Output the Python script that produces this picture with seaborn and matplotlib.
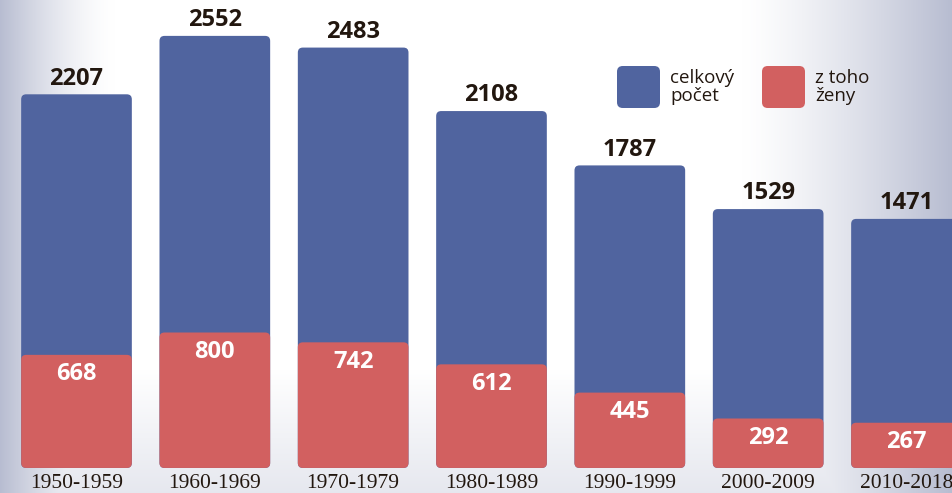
import numpy as np
import pandas as pd
import matplotlib
matplotlib.use("Agg")
from matplotlib import pyplot as plt
from matplotlib.patches import FancyBboxPatch
import seaborn as sns

# Data
periods = ["1950-1959", "1960-1969", "1970-1979", "1980-1989",
           "1990-1999", "2000-2009", "2010-2018"]
total = [2207, 2552, 2483, 2108, 1787, 1529, 1471]
women = [668, 800, 742, 612, 445, 292, 267]

blue = "#50649f"
red = "#d26060"
dark = "#22170f"

df = pd.DataFrame({"period": periods, "total": total, "women": women})

sns.set_style("white")
fig = plt.figure(figsize=(9.52, 4.93), dpi=100)

# Background gradient (gray at the sides, white in the middle)
bg = fig.add_axes([0, 0, 1, 1], zorder=0)
h, w = 493, 952
xx, yy = np.meshgrid(np.linspace(0, 1, w), np.linspace(0, 1, h))
left = np.clip(1 - xx / 0.12, 0, 1) ** 1.5
right = np.clip((xx - 0.78) / 0.22, 0, 1) ** 1.3
bottom = np.clip((yy - 0.75) / 0.25, 0, 1) * 0.35
shade = np.clip(np.maximum(np.maximum(left, right), bottom), 0, 1)
white = np.array([1.0, 1.0, 1.0])
gray = np.array([0.72, 0.74, 0.82])
img = white * (1 - shade[..., None]) + gray * shade[..., None]
bg.imshow(img, aspect="auto", extent=(0, 1, 0, 1), origin="upper")
bg.axis("off")

ax = fig.add_axes([0, 0, 1, 1], zorder=1)
ax.patch.set_alpha(0)

sns.barplot(data=df, x="period", y="total", color=blue, width=0.8,
            saturation=1, ax=ax)
sns.barplot(data=df, x="period", y="women", color=red, width=0.8,
            saturation=1, ax=ax)

xlim = (-0.553, 6.329)
ylim = (-148, 2764)
ax.set_xlim(*xlim)
ax.set_ylim(*ylim)

# replace the plain rectangles with rounded ones
px_x = 952 / (xlim[1] - xlim[0])
px_y = 493 / (ylim[1] - ylim[0])
r = 5 / px_x
aspect = px_x / px_y
for i, p in enumerate(list(ax.patches)):
    x0, y0 = p.get_x(), p.get_y()
    bw, bh = p.get_width(), p.get_height()
    fc = p.get_facecolor()
    p.remove()
    ax.add_patch(FancyBboxPatch((x0, y0), bw, bh,
                                boxstyle=f"round,pad=0,rounding_size={r}",
                                mutation_aspect=aspect, facecolor=fc,
                                edgecolor="none", zorder=2 + (i >= len(periods))))

for i in range(len(periods)):
    ax.text(i, total[i] + 22, str(total[i]), ha="center", va="bottom",
            fontsize=17, fontweight="bold", color=dark, family="Open Sans")
    ax.text(i, women[i] - 45, str(women[i]), ha="center", va="top",
            fontsize=17, fontweight="bold", color="white", family="Open Sans",
            zorder=5)
    ax.text(i, -92, periods[i], ha="center", va="center", fontsize=15.5,
            color=dark, family="Liberation Serif")

ax.set_axis_off()

# legend
for lx, col, lab in [(617, blue, "celkový\npočet"), (762, red, "z toho\nženy")]:
    fig.patches.append(FancyBboxPatch((lx / 952, 1 - 108 / 493), 43 / 952, 42 / 493,
                                      boxstyle="round,pad=0,rounding_size=0.006",
                                      mutation_aspect=952 / 493,
                                      transform=fig.transFigure, facecolor=col,
                                      edgecolor="none", zorder=3))
    fig.text((lx + 53) / 952, 1 - 87 / 493, lab, ha="left", va="center",
             fontsize=13.5, color=dark, family="Open Sans", linespacing=1.0,
             zorder=4)

fig.savefig("out.png", dpi=100)
